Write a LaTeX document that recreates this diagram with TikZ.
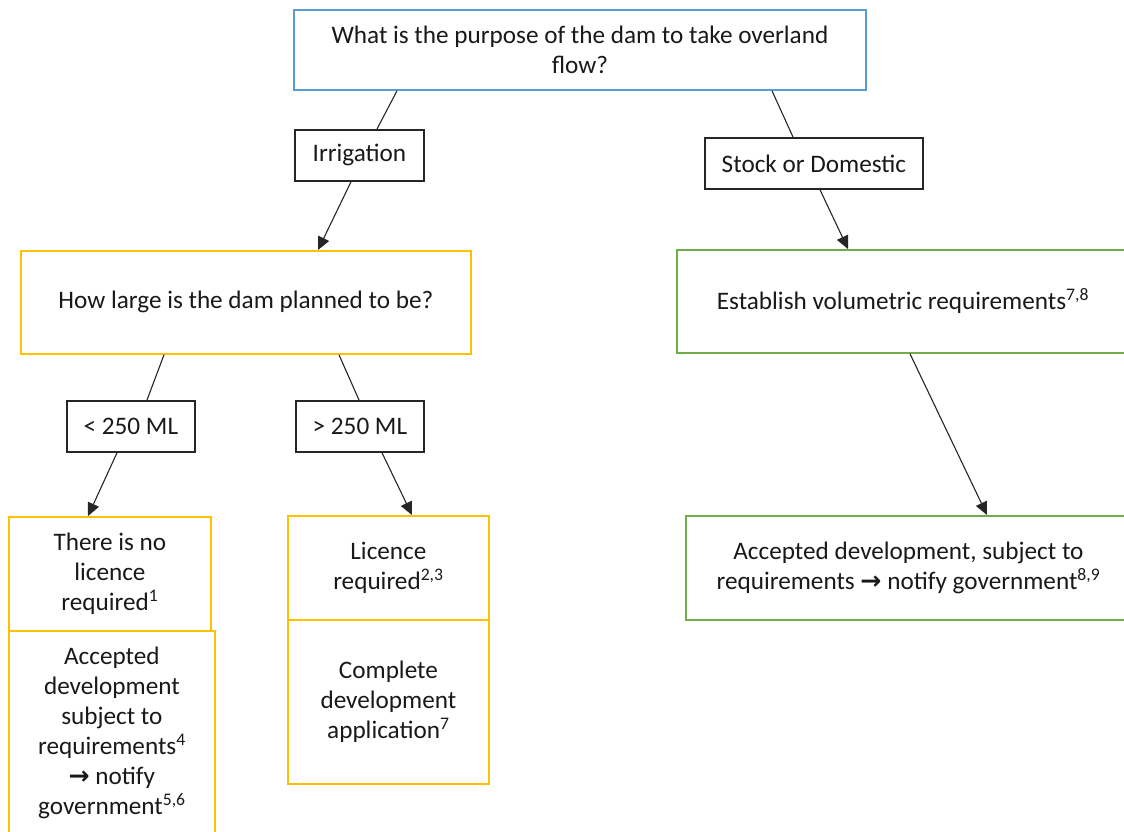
\documentclass[tikz,border=0pt]{standalone}
\usepackage{fontspec}
\setmainfont{Carlito}
\newfontfamily\arrfont{DejaVu Sans}
\usepackage{tikz}
\usetikzlibrary{calc}
\usetikzlibrary{arrows.meta,positioning}
\definecolor{boxblue}{HTML}{5B9BD5}
\definecolor{boxyellow}{HTML}{FFC000}
\definecolor{boxgreen}{HTML}{70AD47}
\newcommand{\sups}[1]{\textsuperscript{#1}}
\newcommand{\toarr}{{\arrfont\bfseries\char"2192}}

\begin{document}
\begin{tikzpicture}
    [x=1pt,y=-1pt,
    every node/.style={font=\fontsize{25.2}{30}\selectfont,text=black!90},
    box/.style={draw,line width=1.8pt,anchor=north west,align=center,inner sep=0pt},
    ask/.style={box,draw=boxblue},
    choice/.style={box,draw=black!85},
    plan/.style={box,draw=boxyellow},
    stock/.style={box,draw=boxgreen},
    link/.style={draw=black!85,line width=1.1pt},
    arr/.style={link,-{Triangle[length=13pt,width=12pt]}}]
  \useasboundingbox (0,0) rectangle (1124,831);
  \clip (0,0) rectangle (1124,831);
  \node[ask,minimum width=572,minimum height=80] (purp) at (293,9)
    {What is the purpose of the dam to take overland\\flow?};
  \node[choice,minimum width=129,minimum height=51] (irr) at (294,129) {Irrigation};
  \node[choice,minimum width=218,minimum height=51] (stk) at (704,137) {Stock or Domestic};
  \node[plan,minimum width=450,minimum height=103] (size) at (20,250)
    {How large is the dam planned to be?};
  \node[stock,text width=460,inner xsep=40,minimum height=103,align=flush left] (vol) at (676,249)
    {Establish volumetric requirements\sups{7,8}};
  \node[choice,minimum width=128,minimum height=51] (small) at (66,400) {< 250 ML};
  \node[choice,minimum width=128,minimum height=51] (large) at (295,400) {> 250 ML};
  \node[plan,minimum width=202,minimum height=114] (nolic) at (8,516)
    {There is no\\licence\\required\sups{1}};
  \node[plan,minimum width=206,minimum height=205] (acc1) at (8,630)
    {Accepted\\development\\subject to\\requirements\sups{4}\\\toarr{} notify\\government\sups{5,6}};
  \node[plan,minimum width=201,minimum height=104] (lic) at (287,515)
    {Licence\\required\sups{2,3}};
  \node[plan,minimum width=201,minimum height=164] (devapp) at (287,619)
    {Complete\\development\\application\sups{7}};
  \node[stock,minimum width=445,minimum height=104] (acc2) at (685,515)
    {Accepted development, subject to\\requirements \toarr{} notify government\sups{8,9}};
  \draw[link] ($(purp.south west)+(104,0)$) -- ($(irr.north west)+(83,0)$);
  \draw[arr] ($(irr.south west)+(57,0)$) -- ($(size.north west)+(298,0)$);
  \draw[link] ($(purp.south west)+(479,0)$) -- ($(stk.north west)+(89,0)$);
  \draw[arr] ($(stk.south west)+(116,0)$) -- ($(vol.north west)+(172,0)$);
  \draw[link] ($(size.south west)+(144,0)$) -- ($(small.north west)+(81,0)$);
  \draw[link] ($(size.south west)+(319,0)$) -- ($(large.north west)+(64,0)$);
  \draw[arr] ($(small.south west)+(51,0)$) -- ($(nolic.north west)+(80,0)$);
  \draw[arr] ($(large.south west)+(87,0)$) -- ($(lic.north west)+(125,0)$);
  \draw[arr] ($(vol.south west)+(234,0)$) -- ($(acc2.north west)+(302,0)$);
\end{tikzpicture}
\end{document}
